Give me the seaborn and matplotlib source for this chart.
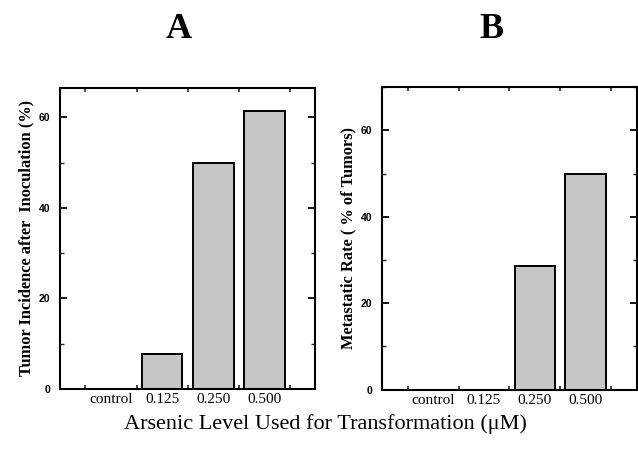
import pandas as pd
import matplotlib.pyplot as plt
import seaborn as sns
from matplotlib.ticker import FixedLocator, MultipleLocator

# Data
levels = ['control', '0.125', '0.250', '0.500']
tumor_incidence = [0, 7.7, 50, 61.5]
metastatic_rate = [0, 0, 28.6, 50]

df = pd.DataFrame({'level': levels,
                   'incidence': tumor_incidence,
                   'metastatic': metastatic_rate})

sns.set_theme(style='ticks')
plt.rcParams['font.family'] = ['Liberation Serif', 'DejaVu Serif']
plt.rcParams['text.color'] = 'black'
plt.rcParams['axes.labelcolor'] = 'black'

fig = plt.figure(figsize=(6.38, 4.49), dpi=100)
ax_a = fig.add_axes([0.094, 0.134, 0.400, 0.670])
ax_b = fig.add_axes([0.599, 0.132, 0.399, 0.674])

panels = [
    (ax_a, 'incidence', 'Tumor Incidence after  Inoculation (%)', 66.5, 'A', 179),
    (ax_b, 'metastatic', 'Metastatic Rate ( % of Tumors)', 70, 'B', 491),
]

for ax, col, ylab, ymax, letter, lx in panels:
    sns.barplot(data=df, x='level', y=col, order=levels, ax=ax,
                color='#c6c6c6', edgecolor='black', linewidth=1.4,
                width=0.8, saturation=1)
    ax.set_xlim(-1, 4)
    ax.set_ylim(0, ymax)
    ax.set_xlabel('')
    ax.set_ylabel(ylab, fontsize=11.8, fontweight='bold', labelpad=3)

    # spines
    for s in ax.spines.values():
        s.set_visible(True)
        s.set_linewidth(1.5)
        s.set_color('black')

    # ticks
    ax.yaxis.set_major_locator(MultipleLocator(20))
    ax.yaxis.set_minor_locator(MultipleLocator(10))
    ax.xaxis.set_minor_locator(FixedLocator([-0.5, 0.5, 1.5, 2.5, 3.5]))
    ax.tick_params(axis='y', which='major', direction='in', length=5, width=1.3,
                   left=True, right=True, pad=7, colors='black')
    ax.tick_params(axis='y', which='minor', direction='in', length=3, width=1.0,
                   left=True, right=True)
    ax.tick_params(axis='x', which='major', length=0, pad=3, labelsize=11,
                   colors='black')
    ax.tick_params(axis='x', which='minor', direction='in', length=3, width=1.2,
                   top=True, bottom=True)
    for lab in ax.get_yticklabels():
        lab.set_family(['Liberation Sans', 'DejaVu Sans'])
        lab.set_fontsize(7.5)
        lab.set_fontweight('bold')

    fig.text(lx / 638, 1 - 29 / 449, letter, fontsize=26, fontweight='bold',
             ha='center', va='center')

fig.text(325 / 638, 1 - 429 / 449,
         'Arsenic Level Used for Transformation (\u03bcM)',
         fontsize=16, ha='center', va='baseline')

fig.savefig('out.png', dpi=100, facecolor='white')
